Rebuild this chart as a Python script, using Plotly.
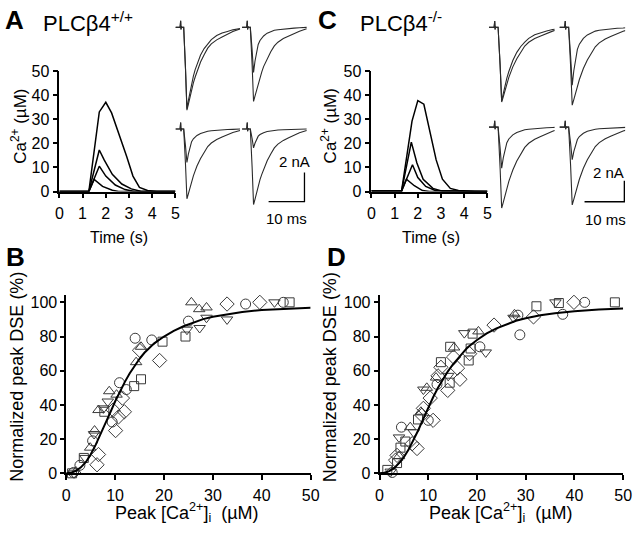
import plotly.graph_objects as go

W, H = 640, 538
FONT = "Liberation Sans, Arial, sans-serif"


def px(x):
    return x / W


def py(y):
    return 1 - y / H


# ---------------- Data: Ca2+ transients (time s, µM) ----------------
caA_t1 = [0, 1.27, 1.72, 2.0, 2.25, 2.55, 2.9, 3.17, 3.45, 3.8, 4.2, 5.0]
caA_v1 = [0, 0, 33, 37, 32.6, 24.5, 14.5, 6.4, 1.7, 0.4, 0, 0]
caA_t2 = [0, 1.27, 1.72, 1.93, 2.28, 2.69, 3.1, 3.5, 5.0]
caA_v2 = [0, 0, 17.2, 13.1, 7.1, 3.1, 1.1, 0.1, 0]
caA_t3 = [0, 1.27, 1.72, 2.0, 2.41, 2.83, 3.24, 5.0]
caA_v3 = [0, 0, 10.5, 6.4, 2.7, 0.8, 0, 0]
caA_t4 = [0, 1.27, 1.5, 1.86, 2.28, 2.55, 5.0]
caA_v4 = [0, 0, 5.0, 2.1, 0.5, 0, 0]

caC_t1 = [0, 1.3, 1.75, 2.0, 2.26, 2.51, 2.79, 3.06, 3.4, 3.75, 4.44, 5.0]
caC_v1 = [0.2, 0.2, 29.2, 37.7, 36.2, 25.2, 13.1, 5.1, 1.3, 0.4, 0, 0]
caC_t2 = [0, 1.3, 1.72, 1.96, 2.23, 2.65, 3.06, 5.0]
caC_v2 = [0.2, 0.2, 20.5, 11.8, 5.1, 1.3, 0.1, 0]
caC_t3 = [0, 1.3, 1.77, 2.0, 2.34, 2.75, 5.0]
caC_v3 = [0.2, 0.2, 11.1, 5.8, 2.1, 0.4, 0]
caC_t4 = [0, 1.3, 1.51, 1.85, 2.2, 2.5, 5.0]
caC_v4 = [0.2, 0.2, 5.1, 2.4, 0.4, 0, 0]

ca_ticks_t = [0, 1, 2, 3, 4, 5]
ca_ticks_v = [0, 10, 20, 30, 40, 50]

# ---------------- Data: EPSC sweeps (time ms, current nA) ----------------
epsc_t = [0, 1.3, 1.45, 1.55, 1.65, 1.8, 2.3, 2.8, 3.2, 3.6, 4.0, 4.5, 5.0, 5.5,
          6.0, 7.0, 8.0, 9.0, 10.0, 11.5, 13.0, 14.5, 16.0, 18.0]

# PLCb4 +/+ sweeps (pre / post pairs)
A_tl_slow = [0, 0, 0.45, -0.15, 0.05, 0, 0, -2.85, -5.7, -5.3, -4.85, -4.33, -3.82, -3.42,
             -3.02, -2.39, -1.88, -1.43, -1.14, -0.86, -0.66, -0.46, -0.29, -0.11]
A_tl_fast = [0, 0, 0.45, -0.15, 0.05, 0, 0, -2.8, -5.6, -5.04, -4.48, -3.86, -3.36, -2.91,
             -2.52, -1.9, -1.46, -1.12, -0.84, -0.56, -0.39, -0.28, -0.17, -0.08]
A_tr_slow = [0, 0, 0.45, -0.15, 0.05, 0, 0, -2.55, -5.1, -4.74, -4.34, -3.88, -3.42, -3.06,
             -2.7, -2.14, -1.68, -1.28, -1.02, -0.77, -0.59, -0.41, -0.26, -0.1]
A_tr_fast = [0, 0, 0.45, -0.15, 0.05, 0, 0, -1.55, -3.1, -2.33, -1.71, -1.18, -0.9, -0.71,
             -0.59, -0.4, -0.28, -0.2, -0.16, -0.11, -0.08, -0.05, -0.03, 0]
A_bl_slow = [0, 0, 0.45, -0.15, 0.05, 0, 0, -2.4, -4.8, -4.46, -4.08, -3.65, -3.22, -2.88,
             -2.54, -2.02, -1.58, -1.2, -0.96, -0.72, -0.55, -0.38, -0.24, -0.1]
A_bl_fast = [0, 0, 0.45, -0.15, 0.05, 0, 0, -1.15, -2.3, -1.73, -1.27, -0.87, -0.67, -0.53,
             -0.44, -0.3, -0.21, -0.15, -0.12, -0.08, -0.06, -0.03, -0.02, 0]
A_br_slow = [0, 0, 0.45, -0.15, 0.05, 0, 0, -2.6, -5.2, -4.84, -4.42, -3.95, -3.48, -3.12,
             -2.76, -2.18, -1.72, -1.3, -1.04, -0.78, -0.6, -0.42, -0.26, -0.1]
A_br_fast = [0, 0, 0.45, -0.15, 0.05, 0, 0, -0.65, -1.3, -0.98, -0.72, -0.49, -0.38, -0.3,
             -0.25, -0.17, -0.12, -0.08, -0.07, -0.05, -0.03, -0.02, -0.01, 0]

# PLCb4 -/- sweeps
C_tl_slow = [0, 0, 0.6, -0.2, 0.05, 0, 0, -3.55, -7.1, -6.6, -6.04, -5.4, -4.76, -4.26,
             -3.76, -2.98, -2.34, -1.78, -1.42, -1.07, -0.82, -0.57, -0.36, -0.14]
C_tl_fast = [0, 0, 0.6, -0.2, 0.05, 0, 0, -3.5, -7.0, -6.3, -5.6, -4.83, -4.2, -3.64,
             -3.15, -2.38, -1.82, -1.4, -1.05, -0.7, -0.49, -0.35, -0.21, -0.1]
C_tr_slow = [0, 0, 0.6, -0.2, 0.05, 0, 0, -3.7, -7.4, -6.88, -6.29, -5.62, -4.96, -4.44,
             -3.92, -3.11, -2.44, -1.85, -1.48, -1.11, -0.85, -0.59, -0.37, -0.15]
C_tr_fast = [0, 0, 0.6, -0.2, 0.05, 0, 0, -2.75, -5.5, -4.13, -3.03, -2.09, -1.6, -1.27,
             -1.05, -0.72, -0.5, -0.36, -0.28, -0.19, -0.14, -0.08, -0.06, 0]
C_bl_slow = [0, 0, 0.6, -0.2, 0.05, 0, 0, -3.85, -7.7, -7.16, -6.55, -5.85, -5.16, -4.62,
             -4.08, -3.23, -2.54, -1.93, -1.54, -1.16, -0.89, -0.62, -0.39, -0.15]
C_bl_fast = [0, 0, 0.6, -0.2, 0.05, 0, 0, -1.95, -3.9, -2.93, -2.15, -1.48, -1.13, -0.9,
             -0.74, -0.51, -0.35, -0.25, -0.2, -0.14, -0.1, -0.06, -0.04, 0]
C_br_slow = [0, 0, 0.6, -0.2, 0.05, 0, 0, -3.7, -7.4, -6.88, -6.29, -5.62, -4.96, -4.44,
             -3.92, -3.11, -2.44, -1.85, -1.48, -1.11, -0.85, -0.59, -0.37, -0.15]
C_br_fast = [0, 0, 0.6, -0.2, 0.05, 0, 0, -1.55, -3.1, -2.33, -1.71, -1.18, -0.9, -0.71,
             -0.59, -0.4, -0.28, -0.2, -0.16, -0.11, -0.08, -0.05, -0.03, 0]

scalebar_ms = 10
scalebar_nA = 2

# ---------------- Data: DSE vs peak [Ca2+]i ----------------
B_circ_x = [1.5, 2.8, 5.4, 9.4, 10.9, 12.3, 14.1, 17.5, 25.0, 36.7, 44.4]
B_circ_y = [0.5, 4.7, 19, 30, 53, 49, 79, 78, 89, 99, 100]
B_sq_x = [1.2, 3.6, 7.8, 13.9, 15.3, 19.7, 24.4, 45.7]
B_sq_y = [0, 9, 36, 51, 55, 77, 80, 100]
B_dia_x = [6.3, 6.6, 9.6, 10.1, 10.7, 11.5, 11.9, 15.0, 19.1, 32.9, 39.6]
B_dia_y = [5, 11, 37, 25, 33, 44, 36, 72, 66, 99, 100]
B_tup_x = [2.0, 4.9, 5.8, 6.6, 8.8, 10.3, 14.3, 15.3, 25.6, 27.2, 28.7]
B_tup_y = [1, 15, 25, 37, 48, 46, 65, 74, 100, 96, 97]
B_tdn_x = [1.6, 3.9, 5.7, 7.6, 8.5, 24.7, 27.3, 28.7, 32.9, 42.6]
B_tdn_y = [0, 9, 23, 38, 42, 84, 85, 91, 90, 100]
B_fit_x = [0, 1, 2, 3, 4, 5, 6, 7, 8, 9, 10, 11, 12, 13, 14, 15, 16, 17, 18, 20,
           22, 24, 26, 28, 30, 33, 36, 40, 45, 50]
B_fit_y = [0, 0.3, 1.5, 3.5, 6.5, 11, 16.5, 22.5, 29, 35.5, 42, 48, 53.5, 58.5, 63,
           67, 70.5, 73.5, 76, 80, 83.3, 86, 88.3, 90.2, 91.6, 93.2, 94.4, 95.5, 96.3, 96.9]

D_circ_x = [2.6, 4.5, 10.0, 11.8, 20.6, 28.4, 28.8, 37.6, 42.1]
D_circ_y = [0.5, 27, 31, 52, 74, 92.5, 81, 93, 100]
D_sq_x = [1.6, 3.6, 4.3, 5.3, 7.9, 12.6, 14.5, 14.4, 18.3, 19.1, 18.7, 32.2, 36.8, 48.3]
D_sq_y = [2, 6, 15, 18.6, 31.5, 65, 74, 53, 66, 81.7, 73, 97.7, 99.6, 100]
D_dia_x = [3.3, 3.6, 6.7, 7.7, 8.7, 9.0, 10.4, 11.0, 12.0, 12.6, 14.0, 15.2, 16.0, 16.5,
           18.5, 23.5, 31.6, 39.9]
D_dia_y = [7.7, 10.5, 17.3, 14.5, 34, 38, 44, 31, 57, 62, 48.5, 68, 61.5, 55, 70, 86.7,
           91.5, 100]
D_tup_x = [4.0, 6.3, 8.5, 9.7, 11.6, 15.3, 20.3, 27.7]
D_tup_y = [10, 27, 36, 50, 56, 73.6, 83, 93]
D_tdn_x = [2.3, 4.0, 7.0, 9.0, 14.1, 17.4, 21.8, 27.5, 36.1]
D_tdn_y = [1, 21, 24, 49, 57, 82, 70.7, 91, 100]
D_fit_x = [0, 1, 2, 3, 4, 5, 6, 7, 8, 9, 10, 11, 12, 13, 14, 15, 16, 17, 18, 20,
           22, 24, 26, 28, 30, 33, 36, 40, 45, 50]
D_fit_y = [0, 0.3, 1.3, 3, 6, 9.5, 14, 19.5, 25.5, 32, 38.5, 44.5, 50, 55, 59.5, 63.5,
           67, 70.5, 73.5, 78, 81.8, 84.8, 87.2, 89.2, 90.7, 92.4, 93.6, 94.8, 95.8, 96.4]

dse_ticks_x = [0, 10, 20, 30, 40, 50]
dse_ticks_y = [0, 20, 40, 60, 80, 100]

# ---------------- Figure ----------------
fig = go.Figure()

BLACK = "#000000"
TRACE = "#2a2a2a"


def add_line(x, y, xa, ya, color=BLACK, width=1.5):
    fig.add_trace(go.Scatter(x=x, y=y, mode="lines", xaxis=xa, yaxis=ya,
                             line=dict(color=color, width=width), showlegend=False,
                             hoverinfo="skip"))


for t, v in [(caA_t1, caA_v1), (caA_t2, caA_v2), (caA_t3, caA_v3), (caA_t4, caA_v4)]:
    add_line(t, v, "x", "y")
for t, v in [(caC_t1, caC_v1), (caC_t2, caC_v2), (caC_t3, caC_v3), (caC_t4, caC_v4)]:
    add_line(t, v, "x2", "y2")

sweeps = [
    ("x5", "y5", A_tl_slow, A_tl_fast),
    ("x6", "y6", A_tr_slow, A_tr_fast),
    ("x7", "y7", A_bl_slow, A_bl_fast),
    ("x8", "y8", A_br_slow, A_br_fast),
    ("x9", "y9", C_tl_slow, C_tl_fast),
    ("x10", "y10", C_tr_slow, C_tr_fast),
    ("x11", "y11", C_bl_slow, C_bl_fast),
    ("x12", "y12", C_br_slow, C_br_fast),
]
for xa, ya, s, f in sweeps:
    add_line(epsc_t, s, xa, ya, TRACE, 1.1)
    add_line(epsc_t, f, xa, ya, TRACE, 1.1)

# scale bars (10 ms, 2 nA)
sbA_t0, sbA_i0 = 7.4, -5.0
add_line([sbA_t0, sbA_t0 + scalebar_ms, sbA_t0 + scalebar_ms],
         [sbA_i0, sbA_i0, sbA_i0 + scalebar_nA], "x8", "y8", BLACK, 1.3)
sbC_t0, sbC_i0 = 6.3, -7.1
add_line([sbC_t0, sbC_t0 + scalebar_ms, sbC_t0 + scalebar_ms],
         [sbC_i0, sbC_i0, sbC_i0 + scalebar_nA], "x12", "y12", BLACK, 1.3)

MK = "#3a3a3a"


def add_pts(x, y, sym, xa, ya, size=10):
    fig.add_trace(go.Scatter(x=x, y=y, mode="markers", xaxis=xa, yaxis=ya,
                             marker=dict(symbol=sym, size=size, color="rgba(255,255,255,0)",
                                         line=dict(color=MK, width=1)),
                             showlegend=False, hoverinfo="skip", cliponaxis=False))


for xa, ya, data in [
    ("x3", "y3", [(B_circ_x, B_circ_y, "circle", 10), (B_sq_x, B_sq_y, "square", 9),
                  (B_dia_x, B_dia_y, "diamond", 11), (B_tup_x, B_tup_y, "triangle-up", 10),
                  (B_tdn_x, B_tdn_y, "triangle-down", 10)]),
    ("x4", "y4", [(D_circ_x, D_circ_y, "circle", 10), (D_sq_x, D_sq_y, "square", 9),
                  (D_dia_x, D_dia_y, "diamond", 11), (D_tup_x, D_tup_y, "triangle-up", 10),
                  (D_tdn_x, D_tdn_y, "triangle-down", 10)]),
]:
    for x, y, sym, sz in data:
        add_pts(x, y, sym, xa, ya, sz)

add_line(B_fit_x, B_fit_y, "x3", "y3", BLACK, 2)
add_line(D_fit_x, D_fit_y, "x4", "y4", BLACK, 2)

# ---------------- Axes ----------------
tickfont = dict(family=FONT, size=16, color=BLACK)


def ax_common():
    return dict(showline=True, linecolor=BLACK, linewidth=1.6, ticks="outside",
                ticklen=5, tickwidth=1.5, tickcolor=BLACK, showgrid=False,
                zeroline=False, tickfont=tickfont, fixedrange=True)


layout = dict(
    width=W, height=H, margin=dict(l=0, r=0, t=0, b=0),
    paper_bgcolor="white", plot_bgcolor="rgba(0,0,0,0)", showlegend=False,
    font=dict(family=FONT, color=BLACK),
)

layout["xaxis"] = dict(ax_common(), domain=[px(56.5), px(175)], range=[0, 5], anchor="y",
                       tickvals=ca_ticks_t, ticklabelstandoff=1)
layout["yaxis"] = dict(ax_common(), domain=[py(189.5), py(65)], range=[0, 50], anchor="x",
                       tickvals=ca_ticks_v)
layout["xaxis2"] = dict(ax_common(), domain=[px(375), px(493.5)], range=[0, 5], anchor="y2",
                        tickvals=ca_ticks_t, ticklabelstandoff=1)
layout["yaxis2"] = dict(ax_common(), domain=[py(189.5), py(65)], range=[0, 50], anchor="x2",
                        tickvals=ca_ticks_v)
layout["xaxis3"] = dict(ax_common(), domain=[px(63.5), px(313)], range=[0, 50], anchor="y3",
                        tickvals=dse_ticks_x, ticklabelstandoff=2)
layout["yaxis3"] = dict(ax_common(), domain=[py(480.5), py(296)], range=[0, 104.5], anchor="x3",
                        tickvals=dse_ticks_y, ticklen=4)
layout["xaxis4"] = dict(ax_common(), domain=[px(383.3), px(632)], range=[0, 50], anchor="y4",
                        tickvals=dse_ticks_x, ticklabelstandoff=2)
layout["yaxis4"] = dict(ax_common(), domain=[py(480.5), py(296)], range=[0, 104.5], anchor="x4",
                        tickvals=dse_ticks_y, ticklen=4)

hidden = dict(visible=False, fixedrange=True)
A_cols = [(175, 242), (243, 310)]
A_rows = [(11, 110), (116, 215)]
C_cols = [(495, 562), (567, 634)]
C_rows = [(10.2, 109), (113.2, 212)]
idx = 5
for cols, rows, xr, yr in [(A_cols, A_rows, [0, 18.3], [-6.0, 0.6]),
                           (C_cols, C_rows, [0, 16.5], [-8.2, 0.9])]:
    for r in rows:
        for c in cols:
            layout[f"xaxis{idx}"] = dict(hidden, domain=[px(c[0]), px(c[1])], range=xr,
                                         anchor=f"y{idx}")
            layout[f"yaxis{idx}"] = dict(hidden, domain=[py(r[1]), py(r[0])], range=yr,
                                         anchor=f"x{idx}")
            idx += 1


def ann(text, x, y, size, angle=0, bold=False, xanchor="center"):
    t = f"<b>{text}</b>" if bold else text
    return dict(text=t, x=px(x), y=py(y), xref="paper", yref="paper", showarrow=False,
                textangle=angle, xanchor=xanchor, yanchor="middle",
                font=dict(family=FONT, size=size, color=BLACK))


NB = "\u00a0"
layout["annotations"] = [
    ann("A", 11, 12, 26, bold=True),
    ann("PLCβ4<sup>+/+</sup>", 38, 14, 22, xanchor="left"),
    ann("C", 330, 12, 26, bold=True),
    ann("PLCβ4<sup>-/-</sup>", 361, 14, 22, xanchor="left"),
    ann("B", 12, 257, 26, bold=True),
    ann("D", 339, 257, 26, bold=True),
    ann("Ca<sup>2+</sup>" + NB + "(µM)", 15, 122, 17, angle=-90),
    ann("Ca<sup>2+</sup>" + NB + "(µM)", 332, 122, 17, angle=-90),
    ann("Time (s)", 117, 237, 16),
    ann("Time (s)", 436, 237, 16),
    ann("2 nA", 297, 158, 15),
    ann("10 ms", 288, 217, 15),
    ann("2 nA", 617, 170, 15),
    ann("10 ms", 614, 218, 15),
    ann("Normalized peak DSE (%)", 13, 381, 18, angle=-90),
    ann("Normalized peak DSE (%)", 333, 381, 18, angle=-90),
    ann("Peak [Ca<sup>2+</sup>]<sub>i</sub>" + NB + NB + "(µM)", 187, 521, 18),
    ann("Peak [Ca<sup>2+</sup>]<sub>i</sub>" + NB + NB + "(µM)", 507, 521, 18),
]

fig.update_layout(**layout)
fig.write_html("out.html",
               config={"displayModeBar": False, "staticPlot": False},
               post_script="document.body.style.margin='0';document.body.style.padding='0';"
                           "document.documentElement.style.overflow='hidden';")
